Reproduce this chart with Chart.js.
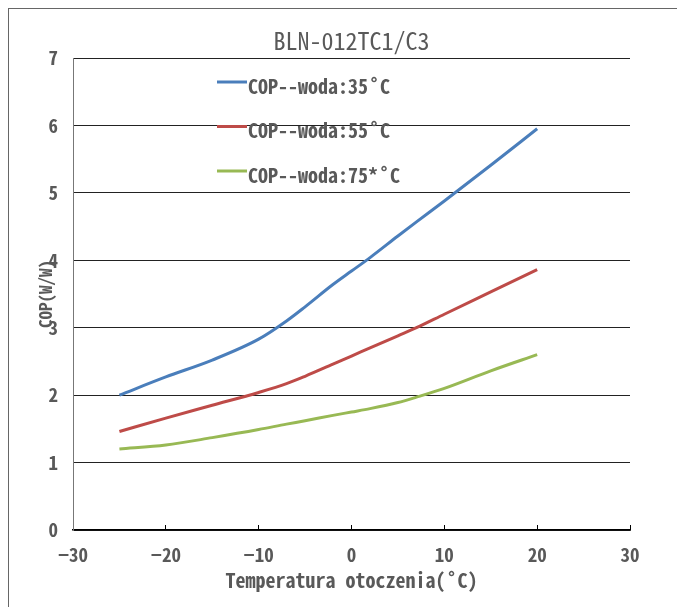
<!DOCTYPE html>
<html>
<head>
<meta charset="utf-8">
<script src="https://cdn.jsdelivr.net/npm/chart.js@4.4.0/dist/chart.umd.min.js"></script>
<style>
  html, body { margin: 0; padding: 0; background: #fff; }
  #wrap { position: relative; width: 677px; height: 607px; overflow: hidden; }
  #frame { position: absolute; left: 8px; top: 8px; width: 700px; height: 700px;
           border-left: 1px solid #666; border-top: 1px solid #666; pointer-events: none; }
  canvas { position: absolute; left: 0; top: 0; }
</style>
</head>
<body>
<div id="wrap">
  <canvas id="myChart" width="677" height="607"></canvas>
  <div id="frame"></div>
</div>
<script>
const FONT = "'Noto Sans Mono CJK SC', 'DejaVu Sans Mono', monospace"
const GREY = '#595959'

const temps = [-25, -20, -15, -10, -7, -5, -2, 0, 2, 5, 7, 10, 15, 20]
const cop35 = [2.0, 2.27, 2.52, 2.83, 3.1, 3.31, 3.64, 3.84, 4.04, 4.36, 4.57, 4.88, 5.41, 5.95]
const cop55 = [1.46, 1.66, 1.85, 2.04, 2.17, 2.28, 2.46, 2.58, 2.7, 2.88, 3.0, 3.2, 3.53, 3.86]
const cop75 = [1.2, 1.26, 1.37, 1.49, 1.57, 1.62, 1.7, 1.75, 1.8, 1.89, 1.97, 2.1, 2.36, 2.6]
const seriesNames = ['COP--woda:35˚C', 'COP--woda:55˚C', 'COP--woda:75*˚C']
const seriesColors = ['#4a7ebb', '#be4b48', '#98b954']
const xTicks = [-30, -20, -10, 0, 10, 20, 30]
const yTicks = [0, 1, 2, 3, 4, 5, 6, 7]

const toPoints = (ys) => temps.map((t, i) => ({x: t, y: ys[i]}))

// legend drawn inside the plot, like the original sheet
const insideLegend = {
  id: 'insideLegend',
  afterDraw(chart) {
    const {ctx, chartArea} = chart
    ctx.save()
    chart.data.datasets.forEach((ds, i) => {
      const x0 = chartArea.left + 144
      const y = chartArea.top + 24 + i * 44.5
      ctx.strokeStyle = ds.borderColor
      ctx.lineWidth = 3
      ctx.beginPath()
      ctx.moveTo(x0, y)
      ctx.lineTo(x0 + 30, y)
      ctx.stroke()
      ctx.fillStyle = GREY
      ctx.font = 'bold 20px ' + FONT
      ctx.textBaseline = 'middle'
      ctx.fillText(ds.label, x0 + 31, y + 4)
    })
    ctx.restore()
  }
}

const chart = document.getElementById('myChart')

new Chart(chart, {
  type: 'line',
  data: {
    datasets: [0, 1, 2].map((i) => ({
      label: seriesNames[i],
      data: toPoints([cop35, cop55, cop75][i]),
      borderColor: seriesColors[i],
      backgroundColor: seriesColors[i],
      borderWidth: 3,
      pointRadius: 0,
      cubicInterpolationMode: 'monotone',
      fill: false
    }))
  },
  options: {
    responsive: false,
    animation: false,
    layout: { padding: { left: 0, right: 47, top: 0, bottom: 0 } },
    plugins: {
      legend: { display: false },
      tooltip: { enabled: false },
      title: {
        display: true,
        text: 'BLN-012TC1/C3',
        fullSize: false,
        color: GREY,
        font: { family: FONT, size: 24, weight: 'normal', lineHeight: 1.2 },
        padding: { top: 26.5, bottom: 2.7 }
      }
    },
    scales: {
      x: {
        type: 'linear',
        min: -30,
        max: 30,
        afterBuildTicks: (s) => { s.ticks = xTicks.map((v) => ({value: v})) },
        afterFit: (s) => { s.height = 77 },
        border: { display: true, color: '#000', width: 1.5 },
        grid: { drawOnChartArea: false, drawTicks: true, tickLength: -5, color: '#000', lineWidth: 1 },
        ticks: {
          color: GREY,
          padding: 18,
          font: { family: FONT, size: 19, weight: 'bold' },
          callback: (v) => String(v).replace('-', '−')
        },
        title: {
          display: true,
          text: 'Temperatura otoczenia(˚C)',
          color: GREY,
          font: { family: FONT, size: 20, weight: 'bold', lineHeight: 1.2 },
          padding: { top: 0, bottom: 15 }
        }
      },
      y: {
        min: 0,
        max: 7,
        afterBuildTicks: (s) => { s.ticks = yTicks.map((v) => ({value: v})) },
        afterFit: (s) => { s.width = 73 },
        border: { display: true, color: '#777', width: 1 },
        grid: { drawTicks: false, color: '#222', lineWidth: 1 },
        ticks: {
          color: GREY,
          padding: 15,
          font: { family: FONT, size: 19, weight: 'bold' }
        },
        title: {
          display: true,
          text: 'COP(W/W)',
          color: GREY,
          font: { family: FONT, size: 17, weight: 'bold', lineHeight: 1.2 },
          padding: { top: 35, bottom: 0 }
        }
      }
    }
  },
  plugins: [insideLegend]
})
</script>
</body>
</html>
